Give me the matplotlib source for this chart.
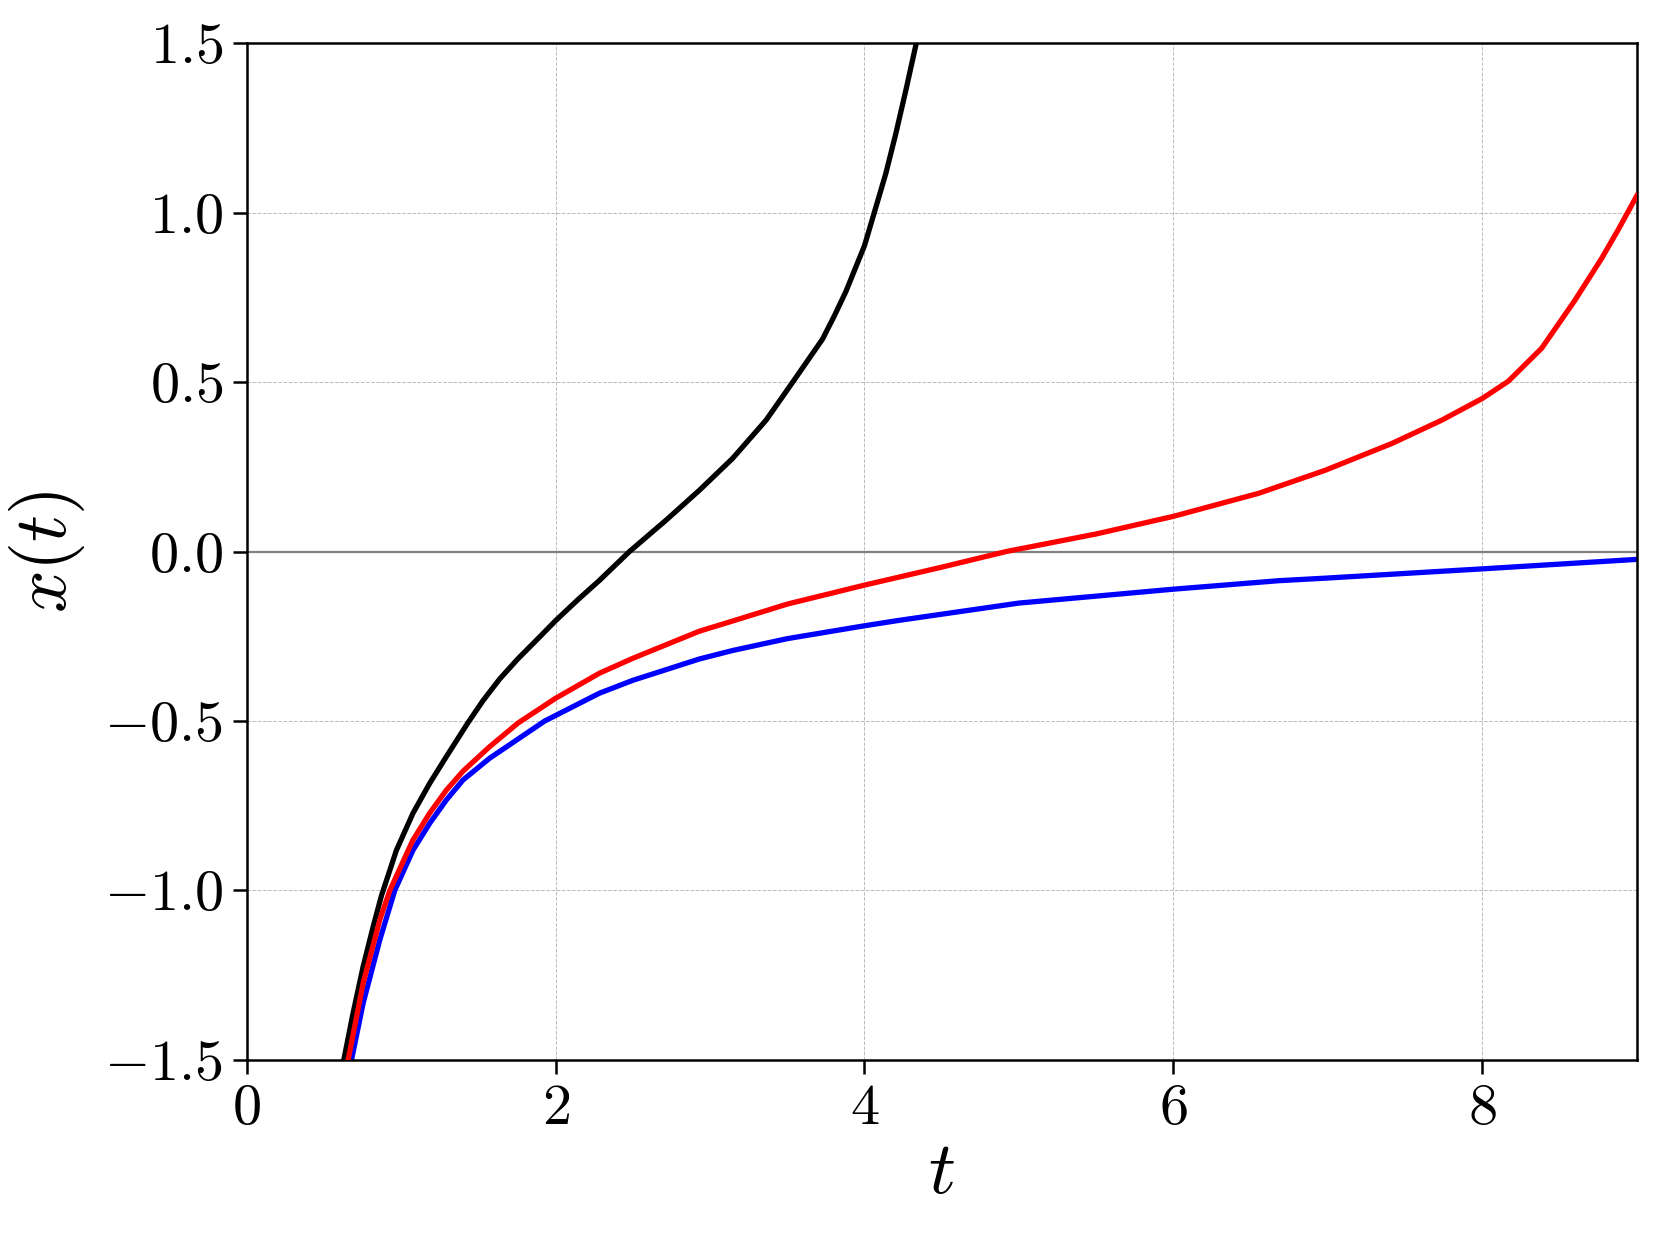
import matplotlib
matplotlib.use("Agg")
import matplotlib.pyplot as plt
from matplotlib.ticker import FuncFormatter

plt.rcParams['mathtext.fontset'] = 'cm'
plt.rcParams['font.family'] = 'serif'
plt.rcParams['font.serif'] = ['cmr10', 'DejaVu Serif']
plt.rcParams['axes.unicode_minus'] = False

# Data
t_black = [0.629, 0.689, 0.754, 0.819, 0.873, 0.970, 1.077, 1.185, 1.293, 1.433, 1.53, 1.638,
           1.757, 1.875, 2.0, 2.142, 2.284, 2.478, 2.716, 2.931, 3.146, 3.363, 3.535, 3.728,
           3.804, 3.88, 4.0, 4.063, 4.138, 4.203, 4.268, 4.335]
x_black = [-1.5, -1.362, -1.225, -1.107, -1.015, -0.881, -0.772, -0.684, -0.605, -0.505, -0.44,
           -0.376, -0.316, -0.262, -0.204, -0.143, -0.085, 0.0, 0.093, 0.181, 0.275, 0.388, 0.5,
           0.627, 0.695, 0.768, 0.903, 1.0, 1.116, 1.234, 1.362, 1.5]

t_red = [0.657, 0.754, 0.862, 0.927, 1.077, 1.185, 1.293, 1.401, 1.573, 1.757, 2.0, 2.284, 2.5,
         2.931, 3.146, 3.5, 4.0, 4.5, 4.916, 5.5, 6.0, 6.552, 6.983, 7.414, 7.738, 8.0, 8.169,
         8.384, 8.6, 8.772, 8.88, 9.0]
x_red = [-1.5, -1.274, -1.087, -1.0, -0.851, -0.772, -0.704, -0.648, -0.576, -0.506, -0.433,
         -0.359, -0.315, -0.235, -0.205, -0.155, -0.099, -0.046, 0.0, 0.052, 0.104, 0.172,
         0.240, 0.319, 0.388, 0.452, 0.503, 0.600, 0.742, 0.865, 0.95, 1.05]

t_blue = [0.679, 0.754, 0.862, 0.959, 1.077, 1.185, 1.293, 1.401, 1.573, 1.93, 2.284, 2.5,
          2.931, 3.146, 3.5, 4.0, 4.224, 5.0, 6.0, 6.68, 7.0, 8.0, 9.0]
x_blue = [-1.5, -1.333, -1.146, -1.0, -0.881, -0.802, -0.733, -0.674, -0.61, -0.5, -0.418,
          -0.38, -0.317, -0.292, -0.257, -0.219, -0.203, -0.152, -0.111, -0.086, -0.078,
          -0.051, -0.023]

x_ticks = [0, 2, 4, 6, 8]
y_ticks = [-1.5, -1.0, -0.5, 0.0, 0.5, 1.0, 1.5]

fig = plt.figure(figsize=(8.3, 6.165), dpi=200)
ax = fig.add_axes([0.1486, 0.1405, 0.986 - 0.1486, 0.9648 - 0.1405])

ax.axhline(0, color='gray', lw=0.8, zorder=1)
ax.plot(t_black, x_black, color='black', lw=1.9, zorder=3, solid_joinstyle='round')
ax.plot(t_red, x_red, color='red', lw=1.9, zorder=3, solid_joinstyle='round')
ax.plot(t_blue, x_blue, color='blue', lw=1.9, zorder=2, solid_joinstyle='round')

ax.set_xlim(0, 9)
ax.set_ylim(-1.5, 1.5)
ax.set_xticks(x_ticks)
ax.set_yticks(y_ticks)
ax.xaxis.set_major_formatter(FuncFormatter(lambda v, p: r'$%d$' % v))
ax.yaxis.set_major_formatter(FuncFormatter(lambda v, p: r'$%.1f$' % v))
ax.tick_params(labelsize=21, width=0.9, length=5)
for s in ax.spines.values():
    s.set_linewidth(0.9)
ax.grid(True, ls='--', lw=0.35, color='#bbbbbb')
ax.set_axisbelow(True)

ax.set_xlabel(r'$t$', fontsize=27, labelpad=2)
ax.set_ylabel(r'$x(t)$', fontsize=27, labelpad=6)

fig.savefig('out.png', dpi=200)
